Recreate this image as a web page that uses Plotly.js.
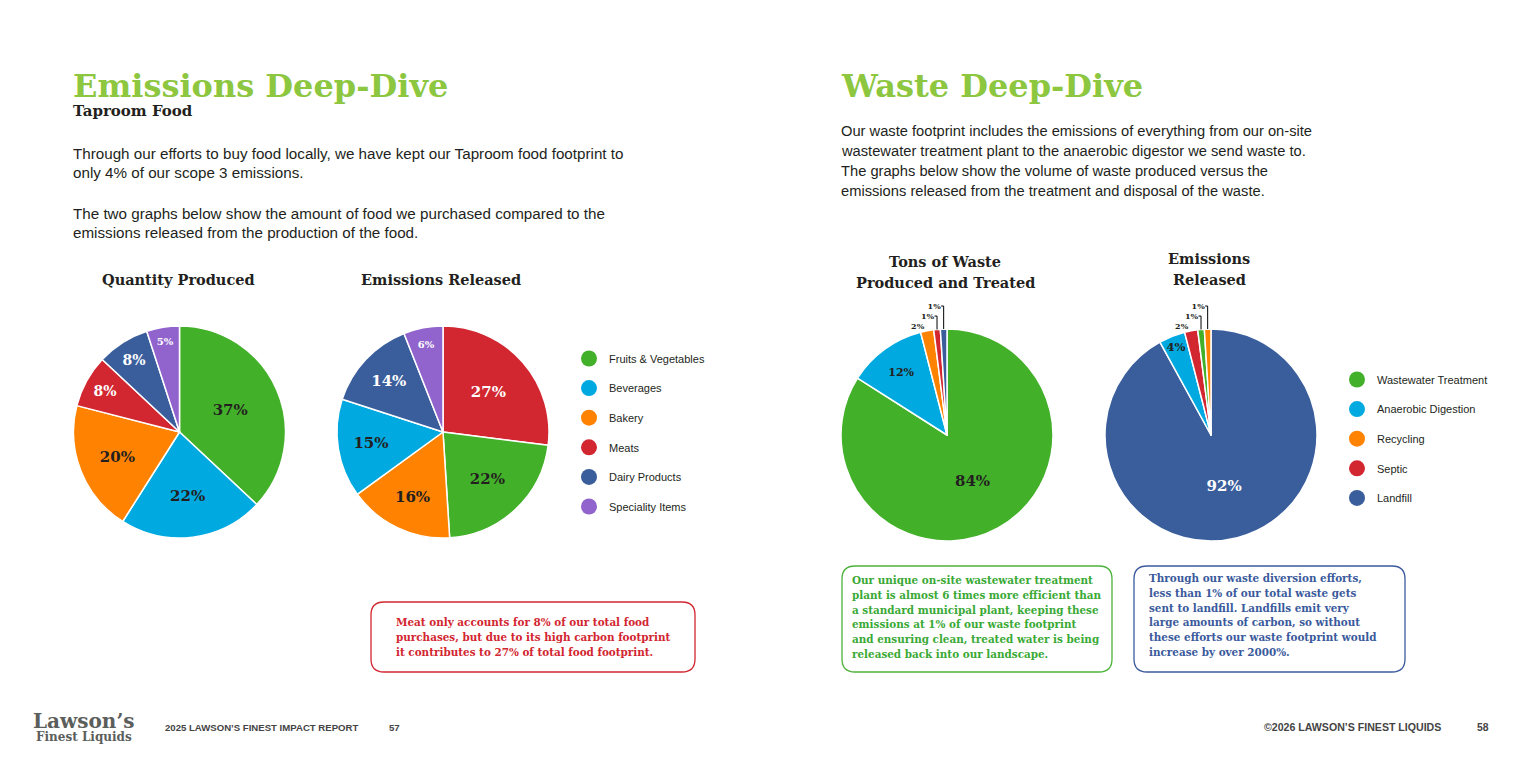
<!DOCTYPE html>
<html><head><meta charset="utf-8">
<script src="https://cdn.plot.ly/plotly-3.0.1.min.js"></script>
<style>html,body{margin:0;padding:0;background:#fff;}#chart{width:1536px;height:768px;}</style>
</head><body><div id="chart"></div>
<script>
// ---------- DATA ----------
const foodLabels = ['Fruits & Vegetables','Beverages','Bakery','Meats','Dairy Products','Speciality Items'];
const quantityLabels = ['Fruits & Vegetables','Beverages','Bakery','Meats','Dairy Products','Speciality Items'];
const quantityValues = [37,22,20,8,8,5];
const foodEmissionLabels = ['Meats','Fruits & Vegetables','Bakery','Beverages','Dairy Products','Speciality Items'];
const foodEmissionValues = [27,22,16,15,14,6];

const wasteLabels = ['Wastewater Treatment','Anaerobic Digestion','Recycling','Septic','Landfill'];
const tonsLabels = ['Wastewater Treatment','Anaerobic Digestion','Recycling','Septic','Landfill'];
const tonsValues = [84,12,2,1,1];
const wasteEmissionLabels = ['Landfill','Anaerobic Digestion','Septic','Wastewater Treatment','Recycling'];
const wasteEmissionValues = [92,4,2,1,1];

// ---------- STYLE ----------
const W = 1536, H = 768;
const X = p => p / W, Y = p => 1 - p / H;
const SERIF = 'DejaVu Serif', SANS = 'Liberation Sans';
const DARK = '#231f20';
const colorOf = {
  'Fruits & Vegetables':'#43b02a','Beverages':'#00a9e0','Bakery':'#ff8200','Meats':'#d22630',
  'Dairy Products':'#3a5e9c','Speciality Items':'#9163cd',
  'Wastewater Treatment':'#43b02a','Anaerobic Digestion':'#00a9e0','Recycling':'#ff8200','Septic':'#d22630','Landfill':'#3a5e9c'
};
const whiteText = new Set(['Meats','Dairy Products','Speciality Items','Septic','Landfill']);

function pie(labels, values, cx, cy, r, sizes, positions) {
  positions = positions || labels.map(() => 'inside');
  return {
    type: 'pie', labels: labels, values: values, sort: false, direction: 'clockwise', rotation: 0,
    domain: {x: [X(cx - r), X(cx + r)], y: [Y(cy + r), Y(cy - r)]},
    marker: {colors: labels.map(l => colorOf[l]), line: {color: '#ffffff', width: 1.5}},
    texttemplate: '%{value}%', textposition: positions, insidetextorientation: 'horizontal',
    textfont: {family: SERIF, size: sizes, weight: 'bold',
      color: labels.map((l, i) => (whiteText.has(l) && positions[i] !== 'outside') ? '#ffffff' : DARK)},
    hoverinfo: 'skip', showlegend: false, automargin: false
  };
}

const traces = [
  pie(quantityLabels, quantityValues, 179.5, 432, 106, [15,15,15,14,14,10]),
  pie(foodEmissionLabels, foodEmissionValues, 443, 432, 106, [15,15,15,15,15,10]),
  pie(tonsLabels, tonsValues, 947, 435, 106, [15,11,8,8,8], ['inside','inside','outside','outside','outside']),
  pie(wasteEmissionLabels, wasteEmissionValues, 1211, 435, 106, [15,12,8,8,8], ['inside','inside','outside','outside','outside'])
];
foodLabels.forEach((l, i) => traces.push({type:'scatter', mode:'markers', x:[null], y:[null], name:l,
  marker:{size:16, color:colorOf[l]}, legend:'legend', legendgroup:'f'+i, showlegend:true, hoverinfo:'skip'}));
wasteLabels.forEach((l, i) => traces.push({type:'scatter', mode:'markers', x:[null], y:[null], name:l,
  marker:{size:16, color:colorOf[l]}, legend:'legend2', legendgroup:'w'+i, showlegend:true, hoverinfo:'skip'}));

const ann = [];
function t(s, x, y, font, anchor) {
  ann.push({xref:'paper', yref:'paper', x:X(x), y:Y(y), xanchor:anchor || 'left', yanchor:'middle',
    text:s, showarrow:false, font:font, borderpad:0});
}
function lines(arr, x, y0, dy, font, anchor) { arr.forEach((s, i) => t(s, x, y0 + i * dy, font, anchor)); }

const green = '#8dc63f';
const hFont = {family:SERIF, size:32, color:green, weight:'bold'};
const subFont = {family:SERIF, size:14.5, color:DARK, weight:'bold'};

t('Emissions Deep-Dive', 72, 86, hFont);
t('Taproom Food', 72, 111, {family:SERIF, size:15, color:DARK, weight:'bold'});
const bodyL = {family:SANS, size:15.2, color:DARK};
lines(['Through our efforts to buy food locally, we have kept our Taproom food footprint to',
       'only 4% of our scope 3 emissions.'], 72, 153, 19.5, bodyL);
lines(['The two graphs below show the amount of food we purchased compared to the',
       'emissions released from the production of the food.'], 72, 213, 19.5, bodyL);

t('Waste Deep-Dive', 840, 86, hFont);
lines(['Our waste footprint includes the emissions of everything from our on-site',
       'wastewater treatment plant to the anaerobic digestor we send waste to.',
       'The graphs below show the volume of waste produced versus the',
       'emissions released from the treatment and disposal of the waste.'], 840, 131, 20,
       {family:SANS, size:14.7, color:DARK});

t('Quantity Produced', 178, 280, subFont, 'center');
t('Emissions Released', 441, 279, subFont, 'center');
lines(['Tons of Waste', 'Produced and Treated'], 945, 262, 20, subFont, 'center');
lines(['Emissions', 'Released'], 1209, 259, 20, subFont, 'center');

const boxFont = c => ({family:SERIF, size:10.4, color:c, weight:'bold'});
lines(['Meat only accounts for 8% of our total food',
       'purchases, but due to its high carbon footprint',
       'it contributes to 27% of total food footprint.'], 395, 622, 15, boxFont('#d22630'));
lines(['Our unique on-site wastewater treatment',
       'plant is almost 6 times more efficient than',
       'a standard municipal plant, keeping these',
       'emissions at 1% of our waste footprint',
       'and ensuring clean, treated water is being',
       'released back into our landscape.'], 851, 580, 14.8, boxFont('#3aa935'));
lines(['Through our waste diversion efforts,',
       'less than 1% of our total waste gets',
       'sent to landfill. Landfills emit very',
       'large amounts of carbon, so without',
       'these efforts our waste footprint would',
       'increase by over 2000%.'], 1148, 578, 14.8, boxFont('#3a5a9c'));

const grey = '#5b5e5b';
t('Lawson\u2019s', 84, 721, {family:SERIF, size:20, color:grey, weight:'bold'}, 'center');
t('Finest Liquids', 84, 737, {family:SERIF, size:12, color:grey, weight:'bold'}, 'center');
t('2025 LAWSON\u2019S FINEST IMPACT REPORT', 164, 727, {family:SANS, size:9.6, color:'#444', weight:'bold'});
t('57', 388, 727, {family:SANS, size:9.6, color:'#444', weight:'bold'});
t('\u00a92026 LAWSON\u2019S FINEST LIQUIDS', 1442, 727, {family:SANS, size:10.6, color:'#444', weight:'bold'}, 'right');
t('58', 1490, 727, {family:SANS, size:10.4, color:'#444', weight:'bold'}, 'right');

function roundedBox(x0, y0, x1, y1, r, color) {
  const a = X(x0), b = X(x1), c = Y(y0), d = Y(y1), rx = r / W, ry = r / H;
  return {type:'path', xref:'paper', yref:'paper', line:{color:color, width:1.3},
    path:`M ${a+rx},${c} L ${b-rx},${c} Q ${b},${c} ${b},${c-ry} L ${b},${d+ry} Q ${b},${d} ${b-rx},${d} L ${a+rx},${d} Q ${a},${d} ${a},${d+ry} L ${a},${c-ry} Q ${a},${c} ${a+rx},${c} Z`};
}
const shapes = [
  roundedBox(371, 602, 695, 672, 13, '#d22630'),
  roundedBox(842, 566, 1112, 672, 13, '#4cb23a'),
  roundedBox(1134, 566, 1405, 672, 13, '#3a5a9c')
];

const legendBase = {xanchor:'left', yanchor:'top', font:{family:SANS, size:11, color:DARK},
  traceorder:'grouped', tracegroupgap:10.6, bgcolor:'rgba(0,0,0,0)', itemwidth:30};
const layout = {
  width: W, height: H, margin:{l:0, r:0, t:0, b:0}, paper_bgcolor:'#fff', plot_bgcolor:'#fff',
  xaxis:{visible:false}, yaxis:{visible:false},
  legend: Object.assign({x:X(569), y:Y(344)}, legendBase),
  legend2: Object.assign({x:X(1337), y:Y(365)}, legendBase),
  annotations: ann, shapes: shapes, showlegend: true
};
Plotly.newPlot('chart', traces, layout, {displayModeBar:false, staticPlot:true});
</script></body></html>
